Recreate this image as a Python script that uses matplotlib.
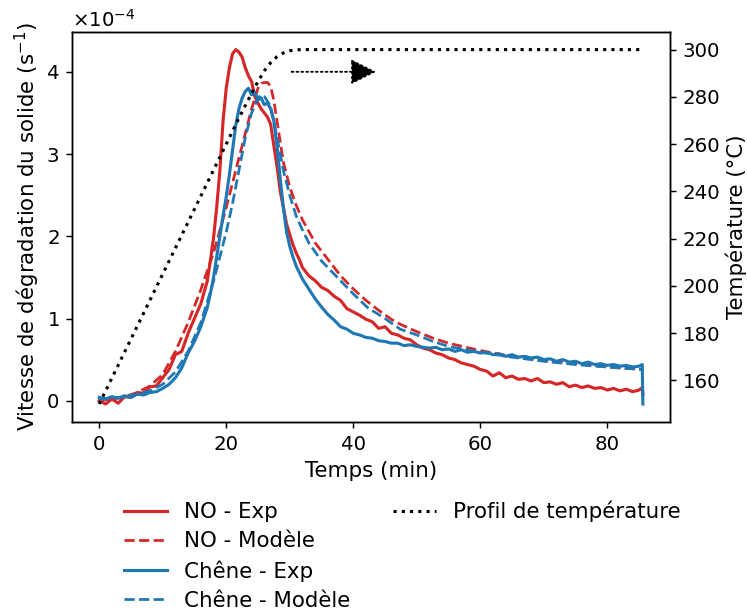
#!/usr/bin/python
# Solid degradation rate vs time for two woods (exp + model), with the
# temperature profile on a twin axis.

import numpy as np
import matplotlib
matplotlib.use("Agg")
import matplotlib.pyplot as plt
from matplotlib.lines import Line2D

# NO - experimental (rate in 1e-4 s^-1)
no_exp_t = [0, 1, 2, 3, 4, 5, 6, 7, 8, 9, 10, 11, 12, 13, 14, 15, 16, 17,
            17.5, 18, 18.5, 19, 19.5, 20, 20.5, 21, 21.5, 22, 22.5, 23, 23.5,
            24, 24.5, 25, 25.5, 26, 26.5, 27, 27.5, 28, 28.5, 29, 29.5, 30,
            30.5, 31, 31.5, 32, 33, 34, 35, 36, 37, 38, 39, 40, 41, 42, 43,
            44, 45, 46, 47, 48, 49, 50, 51, 52, 53, 54, 55, 56, 57, 58, 59,
            60, 61, 62, 63, 64, 65, 66, 67, 68, 69, 70, 71, 72, 73, 74, 75,
            76, 77, 78, 79, 80, 81, 82, 83, 84, 85, 85.5, 85.6]
no_exp_v = [0.00, -0.04, 0.02, -0.03, 0.05, 0.04, 0.10, 0.09, 0.17, 0.18,
            0.28, 0.38, 0.56, 0.60, 0.82, 1.00, 1.18, 1.45,
            1.70, 1.98, 2.35, 2.80, 3.40, 3.80, 4.05, 4.22, 4.27, 4.24, 4.18,
            4.05, 3.95, 3.88, 3.70, 3.62, 3.55, 3.50, 3.45, 3.36, 3.10, 2.85,
            2.55, 2.35, 2.15, 2.02, 1.90, 1.80, 1.72, 1.62,
            1.52, 1.46, 1.38, 1.34, 1.27, 1.22, 1.12, 1.08, 1.04, 0.99, 0.96,
            0.88, 0.90, 0.82, 0.80, 0.76, 0.74, 0.68, 0.64, 0.62, 0.58, 0.56,
            0.52, 0.50, 0.46, 0.44, 0.42, 0.38, 0.36, 0.30, 0.34, 0.28, 0.30,
            0.26, 0.27, 0.24, 0.27, 0.22, 0.23, 0.20, 0.22, 0.17, 0.19, 0.16,
            0.18, 0.15, 0.16, 0.13, 0.15, 0.12, 0.14, 0.11, 0.13, 0.16, 0.08]

# Chene - experimental
ch_exp_t = no_exp_t
ch_exp_v = [0.04, 0.02, 0.05, 0.03, 0.06, 0.04, 0.08, 0.07, 0.10, 0.11,
            0.15, 0.20, 0.28, 0.40, 0.58, 0.72, 0.90, 1.13,
            1.30, 1.50, 1.75, 2.00, 2.25, 2.48, 2.75, 3.05, 3.35, 3.55, 3.68,
            3.76, 3.80, 3.72, 3.75, 3.66, 3.68, 3.60, 3.62, 3.55, 3.40, 3.10,
            2.70, 2.35, 2.05, 1.88, 1.75, 1.64, 1.56, 1.48,
            1.36, 1.24, 1.14, 1.05, 0.98, 0.90, 0.87, 0.82, 0.80, 0.77, 0.76,
            0.73, 0.72, 0.70, 0.70, 0.67, 0.68, 0.66, 0.65, 0.64, 0.65, 0.62,
            0.63, 0.60, 0.62, 0.59, 0.60, 0.58, 0.59, 0.56, 0.57, 0.54, 0.56,
            0.53, 0.54, 0.52, 0.53, 0.50, 0.51, 0.48, 0.50, 0.47, 0.48, 0.45,
            0.47, 0.44, 0.45, 0.43, 0.44, 0.42, 0.43, 0.41, 0.42, 0.44, -0.04]

# NO - model
no_mod_t = [0, 2, 4, 6, 8, 10, 12, 14, 16, 18, 19, 20, 21, 22, 23, 24, 25,
            25.5, 26, 26.5, 27, 27.5, 28, 29, 30, 31, 32, 34, 36, 37, 38, 40,
            42, 44, 46, 47.4, 50, 52.6, 55, 60, 65, 70, 75, 80, 85.6]
no_mod_v = [0.00, 0.02, 0.05, 0.10, 0.18, 0.32, 0.60, 0.95, 1.35, 1.80, 2.07,
            2.35, 2.65, 2.95, 3.25, 3.55, 3.80, 3.86, 3.87, 3.87, 3.82, 3.65,
            3.40, 2.90, 2.60, 2.38, 2.20, 1.92, 1.72, 1.62, 1.52, 1.36, 1.22,
            1.10, 0.99, 0.93, 0.84, 0.76, 0.70, 0.61, 0.54, 0.49, 0.45, 0.41,
            0.38]

# Chene - model
ch_mod_t = [0, 2, 4, 6, 8, 10, 12, 14, 16, 18, 20, 21, 22, 23, 24, 25, 25.5,
            26, 27, 28, 29, 30, 31, 31.8, 33, 35, 37, 40, 42.3, 45, 47.4, 50,
            52.6, 55, 60, 65, 70, 75, 80, 85.6]
ch_mod_v = [0.02, 0.03, 0.05, 0.08, 0.12, 0.20, 0.35, 0.60, 0.95, 1.45, 2.05,
            2.40, 2.80, 3.20, 3.50, 3.68, 3.72, 3.70, 3.58, 3.20, 2.80, 2.50,
            2.25, 2.11, 1.92, 1.70, 1.54, 1.30, 1.13, 1.00, 0.87, 0.80, 0.72,
            0.66, 0.59, 0.53, 0.48, 0.44, 0.41, 0.38]

# temperature profile (degC)
temp_t = [0, 5, 10, 15, 20, 22, 24, 25, 26, 27, 28, 29, 30, 31, 32, 85.6]
temp_v = [150, 177.5, 205, 232.5, 260, 271, 281.5, 286.5, 291, 294.5, 297,
          298.6, 299.5, 299.9, 300, 300]

red = "#d62728"
blue = "#1f77b4"


def main():
    plt.rcParams["font.size"] = 11.7
    plt.rcParams["xtick.labelsize"] = 10.8
    plt.rcParams["ytick.labelsize"] = 10.8
    fig = plt.figure(figsize=(747/132, 613/132), dpi=132)
    ax = fig.add_axes([0.0964, 0.312, 0.8006, 0.636])
    ax2 = ax.twinx()

    # rate curves (stored in 1e-4 s^-1)
    ax.plot(no_exp_t, np.array(no_exp_v)*1e-4, color=red, lw=1.7,
            label="NO - Exp")
    ax.plot(no_mod_t, np.array(no_mod_v)*1e-4, "--", color=red,
            label="NO - Modèle")
    ax.plot(ch_exp_t, np.array(ch_exp_v)*1e-4, color=blue, lw=1.7,
            label="Chêne - Exp")
    ax.plot(ch_mod_t, np.array(ch_mod_v)*1e-4, "--", color=blue,
            label="Chêne - Modèle")

    # temperature on right axis
    ax2.plot(temp_t, temp_v, ":", color="k", lw=1.7,
             label="Profil de température")

    ax.set_xlabel("Temps (min)")
    ax.set_ylabel("Vitesse de dégradation du solide (s$^{-1}$)")
    ax2.set_ylabel("Température (°C)")
    ax.yaxis.set_label_coords(-0.05, 0.5)
    ax2.yaxis.set_label_coords(1.092, 0.5)
    ax.set_xticks([0, 20, 40, 60, 80])
    ax.set_yticks([0, 1e-4, 2e-4, 3e-4, 4e-4])
    ax2.set_yticks(range(160, 301, 20))
    ax.ticklabel_format(axis="y", style="sci", scilimits=(0, 0),
                        useMathText=True)
    ax.yaxis.get_offset_text().set_fontsize(10.8)

    # arrow pointing to the temperature axis
    ax.annotate("", xy=(43.6, 4e-4), xytext=(30.3, 4e-4),
                arrowprops=dict(arrowstyle="-|>", linestyle=":", color="k",
                                lw=1.0, mutation_scale=30,
                                shrinkA=0, shrinkB=0))

    # legend below the axes: 4 rows, second column holds temperature only
    h1, l1 = ax.get_legend_handles_labels()
    h2, l2 = ax2.get_legend_handles_labels()
    blank = Line2D([], [], color="none")
    handles = h1 + h2 + [blank]*3
    labels = l1 + l2 + [""]*3
    fig.legend(handles, labels, ncol=2, frameon=False, loc="upper left",
               bbox_to_anchor=(0.166, 0.183), borderaxespad=0, borderpad=0,
               labelspacing=0.42)

    fig.savefig("out.png", dpi=132)


if __name__ == "__main__":
    main()
